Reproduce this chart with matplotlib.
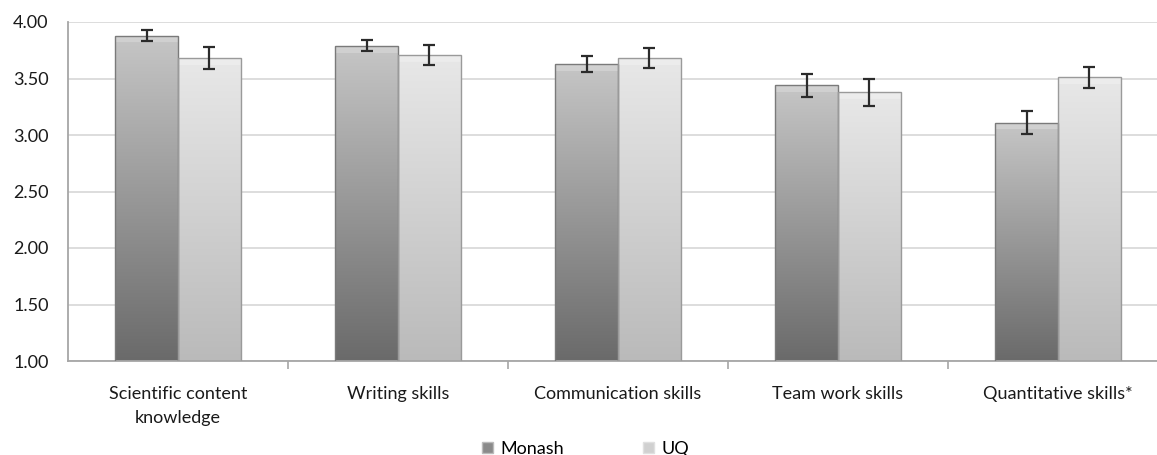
import matplotlib
matplotlib.use("Agg")
import matplotlib.pyplot as plt
import numpy as np
from matplotlib.colors import LinearSegmentedColormap
from matplotlib.patches import Patch

plt.rcParams["font.family"] = ["Lato", "DejaVu Sans"]

CATEGORIES = ["Scientific content\nknowledge", "Writing skills", "Communication skills",
              "Team work skills", "Quantitative skills*"]
MONASH = [3.88, 3.79, 3.63, 3.44, 3.11]
MONASH_ERR = [0.05, 0.05, 0.07, 0.10, 0.10]
UQ = [3.68, 3.71, 3.68, 3.38, 3.51]
UQ_ERR = [0.10, 0.09, 0.09, 0.12, 0.09]
Y_TICKS = [1.0, 1.5, 2.0, 2.5, 3.0, 3.5, 4.0]

BAR_W = 0.286
FS = 13
MONASH_CMAP = LinearSegmentedColormap.from_list("monash", ["#6a6a6a", "#c6c6c6"])
UQ_CMAP = LinearSegmentedColormap.from_list("uq", ["#bababa", "#e8e8e8"])


def gradient_bars(ax, xs, vals, cmap, edge):
    bars = ax.bar(xs, vals, width=BAR_W, bottom=0, color="none", edgecolor=edge,
                  linewidth=1.0, zorder=3)
    grad = np.linspace(0, 1, 256).reshape(-1, 1)
    for b in bars:
        x0 = b.get_x()
        x1 = x0 + b.get_width()
        top = b.get_height()
        im = ax.imshow(grad, cmap=cmap, origin="lower", aspect="auto",
                       extent=(x0, x1, 1.0, top), zorder=2, interpolation="bicubic")
        im.set_clip_path(b)
        # soft bevel near the top
        ax.fill_between([x0, x1], top - 0.06, top, color="white", alpha=0.22,
                        linewidth=0, zorder=2.5, clip_path=b)
    return bars


def main():
    fig = plt.figure(figsize=(11.57, 4.55), dpi=100)
    ax = fig.add_axes([68 / 1157, 1 - 361 / 455, 1100 / 1157, 339 / 455])

    x = np.arange(len(CATEGORIES))
    gradient_bars(ax, x - BAR_W / 2, MONASH, MONASH_CMAP, "#7a7a7a")
    gradient_bars(ax, x + BAR_W / 2, UQ, UQ_CMAP, "#9a9a9a")

    ax.errorbar(x - BAR_W / 2, MONASH, yerr=MONASH_ERR, fmt="none", ecolor="#2b2b2b",
                elinewidth=1.6, capsize=4, capthick=1.6, zorder=5)
    ax.errorbar(x + BAR_W / 2, UQ, yerr=UQ_ERR, fmt="none", ecolor="#2b2b2b",
                elinewidth=1.6, capsize=4, capthick=1.6, zorder=5)

    ax.set_xlim(-0.5, len(CATEGORIES) - 0.5)
    ax.set_ylim(1.0, 4.0)
    ax.set_yticks(Y_TICKS)
    ax.set_yticklabels([f"{v:.2f}" for v in Y_TICKS], fontsize=FS, color="#1a1a1a")
    ax.tick_params(axis="y", length=0, pad=14)

    ax.set_xticks(x)
    ax.set_xticklabels(CATEGORIES, fontsize=FS, color="#1a1a1a", linespacing=1.6)
    ax.tick_params(axis="x", which="major", length=0, pad=18)
    ax.set_xticks(np.arange(0.5, len(CATEGORIES) - 0.5, 1.0), minor=True)
    ax.tick_params(axis="x", which="minor", length=6, width=1.2, color="#a6a6a6", direction="out")

    ax.grid(axis="y", color="#dadada", linewidth=1.3, zorder=0)
    ax.set_axisbelow(True)
    for side in ("top", "right"):
        ax.spines[side].set_visible(False)
    for side in ("left", "bottom"):
        ax.spines[side].set_color("#a6a6a6")
        ax.spines[side].set_linewidth(1.3)

    handles = [Patch(facecolor="#8a8a8a", edgecolor="#bbbbbb"),
               Patch(facecolor="#d0d0d0", edgecolor="#e0e0e0")]
    fig.legend(handles, ["Monash", "UQ"], loc="center left",
               bbox_to_anchor=(482 / 1157, 1 - 449 / 455), ncol=2, frameon=False,
               fontsize=FS, handlelength=0.6, handleheight=0.6, handletextpad=0.4,
               columnspacing=4.4, borderpad=0, borderaxespad=0)

    fig.savefig("out.png", dpi=100, facecolor="white")
    plt.close(fig)


if __name__ == "__main__":
    main()
